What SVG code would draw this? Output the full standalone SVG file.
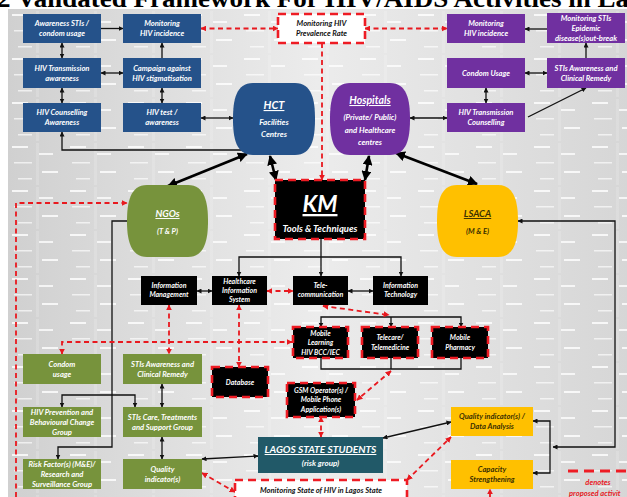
<svg xmlns="http://www.w3.org/2000/svg" width="627" height="497" viewBox="0 0 627 497">
<defs>
<linearGradient id="bg" x1="0" y1="0" x2="1" y2="0">
<stop offset="0" stop-color="#d0d0d0"/>
<stop offset="0.5" stop-color="#ececec"/>
<stop offset="1" stop-color="#d6d6d6"/>
</linearGradient>
<pattern id="gel" x="8" y="9" width="58" height="44" patternUnits="userSpaceOnUse">
<rect x="4" y="5" width="16" height="2" fill="#fff" opacity="0.8"/>
<rect x="31" y="12" width="14" height="2" fill="#fff" opacity="0.75"/>
<rect x="6" y="21" width="18" height="1.5" fill="#fff" opacity="0.65"/>
<rect x="34" y="30" width="16" height="2" fill="#fff" opacity="0.8"/>
<rect x="10" y="37" width="14" height="1.5" fill="#fff" opacity="0.65"/>
<rect x="28" y="2" width="3" height="44" fill="#fff" opacity="0.15"/>
</pattern>
<marker id="a" viewBox="0 0 10 10" refX="9" refY="5" markerWidth="5" markerHeight="5" orient="auto-start-reverse" markerUnits="userSpaceOnUse"><path d="M0,0 L10,5 L0,10 z" fill="#111"/></marker>
<marker id="at" viewBox="0 0 10 10" refX="9" refY="5" markerWidth="10" markerHeight="10" orient="auto-start-reverse" markerUnits="userSpaceOnUse"><path d="M0,0 L10,5 L0,10 z" fill="#000"/></marker>
<marker id="ar" viewBox="0 0 10 10" refX="9" refY="5" markerWidth="6" markerHeight="6" orient="auto-start-reverse" markerUnits="userSpaceOnUse"><path d="M0,0 L10,5 L0,10 z" fill="#e8191f"/></marker>
</defs>
<style>
.t{font-family:Lato,"Open Sans","Liberation Sans",sans-serif;font-weight:bold;font-style:italic;font-size:7.6px;fill:#fff;text-anchor:middle}
.s{font-size:7px}
.d{fill:#3a2f00}
.k{fill:#111}
.blue{fill:#25528a}
.pur{fill:#7030a0}
.grn{fill:#77933c}
.yel{fill:#ffc000}
.blk{fill:#000}
.rb{stroke:#ee1c24;stroke-width:2.6;stroke-dasharray:8 5}
.wb{fill:#fff;stroke:#ee1c24;stroke-width:2.6;stroke-dasharray:8 5}
.c{fill:none;stroke:#111;stroke-width:1.3}
.c2{marker-start:url(#a);marker-end:url(#a)}
.c1{marker-end:url(#a)}
.th{fill:none;stroke:#000;stroke-width:2.6;marker-start:url(#at);marker-end:url(#at)}
.r{fill:none;stroke:#e8191f;stroke-width:1.8;stroke-dasharray:5 3.5}
.r2{marker-start:url(#ar);marker-end:url(#ar)}
.r1{marker-end:url(#ar)}
</style>
<rect x="0" y="0" width="627" height="497" fill="#fff"/>
<text x="-3" y="7" font-family="Liberation Serif,serif" font-weight="bold" font-size="26" textLength="632" lengthAdjust="spacingAndGlyphs" fill="#000">2 Validated Framework For HIV/AIDS Activities in La</text>
<rect x="8" y="9" width="619" height="488" fill="url(#bg)"/>
<rect x="8" y="9" width="619" height="488" fill="url(#gel)"/>

<g id="connectors">
<path class="c c1" d="M101,28.5 H123"/>
<path class="c c2" d="M62,43 V58"/>
<path class="c c2" d="M101,73 H123"/>
<path class="c c1" d="M162,58 V43"/>
<path class="c c2" d="M62,88 V103"/>
<path class="c c2" d="M162,88 V103"/>
<path class="c c2" d="M201,118 H233"/>
<path class="c c1" d="M247,150 H62 V132"/>
<path class="c c1" d="M547,29 H525"/>
<path class="c c2" d="M525,73 H547"/>
<path class="c c1" d="M586,58 V43"/>
<path class="c c2" d="M486,88 V103"/>
<path class="c c1" d="M528,117 L586,88"/>
<path class="c c2" d="M410,118 H447"/>
<path class="th" d="M247,154 L168,186"/>
<path class="th" d="M270,156 L276,180"/>
<path class="th" d="M369,156 L365,180"/>
<path class="th" d="M396,153 L477,184"/>
<path class="c c1" d="M321,239 V276"/>
<path class="c c2" d="M239,276 V257 H401 V276"/>
<path class="c c2" d="M197,291 H212"/>
<path class="c c2" d="M348,291 H373"/>
<path class="c c1" d="M127,221 H112 V447 H58 V459"/>
<path class="c c2" d="M62,407 V395 H135 V407"/>
<path class="c c2" d="M162,384 V407"/>
<path class="c c2" d="M162,437 V459"/>
<path class="c c2" d="M202,459 L258,456"/>
<path class="c c2" d="M383,438 L451,422"/>
<path class="c c2" d="M553,447 H615 V221 H518"/>
<path class="c c2" d="M533,421 H550 V473 H533"/>
<path class="c c2" d="M321,327 V317 H461 V327"/>
<path class="c c1" d="M391,317 V327"/>
<path class="c" d="M321,358 V369 H461 V358 M391,358 V369"/>
<path class="r r2" d="M201,28.5 H278"/>
<path class="r r2" d="M365,28.5 H447"/>
<path class="r r1" d="M322,43 V180"/>
<path class="r r1" d="M16,497 V203 H127"/>
<path class="r r2" d="M267,291 H293"/>
<path class="r r2" d="M323,306 L389,315"/>
<path class="r r2" d="M169,305 V354"/>
<path class="r r2" d="M62,354 V342 H292"/>
<path class="r r2" d="M239,305 V367"/>
<path class="r r2" d="M391,371 L357,400"/>
<path class="r r2" d="M321,417 V437"/>
<path class="r r2" d="M202,473 L235,492"/>
<path class="r r2" d="M407,480 L451,437"/>
<path class="r r1" d="M490,497 V489"/>
<path d="M568,471 H627" fill="none" stroke="#ee1c24" stroke-width="3" stroke-dasharray="10 6"/>
</g>

<g id="awareness-stis"><rect class="blue" x="23" y="14" width="78" height="29"/><text class="t" x="62" y="26">Awareness STIs /</text><text class="t" x="62" y="36">condom usage</text></g>
<g id="monitoring-hiv-l"><rect class="blue" x="123" y="14" width="78" height="29"/><text class="t" x="162" y="26">Monitoring</text><text class="t" x="162" y="36">HIV incidence</text></g>
<g id="hiv-transmission-awareness"><rect class="blue" x="23" y="58" width="78" height="30"/><text class="t" x="62" y="70.5">HIV Transmission</text><text class="t" x="62" y="80.5">awareness</text></g>
<g id="campaign"><rect class="blue" x="123" y="58" width="78" height="30"/><text class="t" x="162" y="70.5">Campaign against</text><text class="t" x="162" y="80.5">HIV stigmatisation</text></g>
<g id="hiv-counselling"><rect class="blue" x="23" y="103" width="78" height="29"/><text class="t" x="62" y="115">HIV Counselling</text><text class="t" x="62" y="125">Awareness</text></g>
<g id="hiv-test"><rect class="blue" x="123" y="103" width="78" height="29"/><text class="t" x="162" y="115">HIV test /</text><text class="t" x="162" y="125">awareness</text></g>

<g id="prevalence"><rect class="wb" x="278" y="14" width="87" height="29"/><text class="t k" x="321.5" y="26">Monitoring HIV</text><text class="t k" x="321.5" y="36">Prevalence Rate</text></g>

<g id="monitoring-hiv-r"><rect class="pur" x="447" y="14" width="78" height="29"/><text class="t" x="486" y="26">Monitoring</text><text class="t" x="486" y="36">HIV incidence</text></g>
<g id="monitoring-stis"><rect class="pur" x="547" y="13" width="78" height="30"/><text class="t" x="586" y="21">Monitoring STIs</text><text class="t" x="586" y="31">Epidemic</text><text class="t" x="586" y="41">disease(s)out-break</text></g>
<g id="condom-usage-p"><rect class="pur" x="447" y="58" width="78" height="30"/><text class="t" x="486" y="75.5">Condom Usage</text></g>
<g id="stis-awareness-p"><rect class="pur" x="547" y="58" width="78" height="30"/><text class="t" x="586" y="70.5">STIs Awareness and</text><text class="t" x="586" y="80.5">Clinical Remedy</text></g>
<g id="hiv-transmission-counselling"><rect class="pur" x="447" y="103" width="78" height="29"/><text class="t" x="486" y="115">HIV Transmission</text><text class="t" x="486" y="125">Counselling</text></g>

<g id="hct"><path class="blue" d="M253,83 H295 C312,83 315,100 315,119 C315,138 312,155 295,155 H253 C236,155 233,138 233,119 C233,100 236,83 253,83 Z"/><text class="t" x="274" y="109" style="font-size:11px" text-decoration="underline">HCT</text><text class="t" x="274" y="125" style="font-size:8px">Facilities</text><text class="t" x="274" y="137" style="font-size:8px">Centres</text></g>
<g id="hospitals"><path class="pur" d="M350,83 H390 C407,83 410,100 410,119 C410,138 407,155 390,155 H350 C333,155 330,138 330,119 C330,100 333,83 350,83 Z"/><text class="t" x="370" y="104" style="font-size:10.5px" text-decoration="underline">Hospitals</text><text class="t" x="370" y="120" style="font-size:7.8px">(Private/ Public)</text><text class="t" x="370" y="133" style="font-size:7.8px">and Healthcare</text><text class="t" x="370" y="145" style="font-size:7.8px">centres</text></g>
<g id="ngos"><path class="grn" d="M147,185 H188 C205,185 208,203 208,221 C208,239 205,257 188,257 H147 C130,257 127,239 127,221 C127,203 130,185 147,185 Z"/><text class="t" x="167.5" y="217" style="font-size:9.5px" text-decoration="underline">NGOs</text><text class="t" x="167.5" y="234">(T &amp; P)</text></g>
<g id="lsaca"><path class="yel" d="M457,185 H498 C515,185 518,203 518,221 C518,239 515,257 498,257 H457 C440,257 437,239 437,221 C437,203 440,185 457,185 Z"/><text class="t d" x="477.5" y="217" style="font-size:9.5px" text-decoration="underline">LSACA</text><text class="t d" x="477.5" y="234">(M &amp; E)</text></g>

<g id="km"><rect class="blk rb" x="275" y="180" width="90" height="59"/><text class="t" x="320" y="212" style="font-size:23px" text-decoration="underline">KM</text><text class="t" x="320" y="232" style="font-size:9.5px">Tools &amp; Techniques</text></g>

<g id="info-management"><rect class="blk" x="141" y="276" width="56" height="29"/><text class="t s" x="169" y="288">Information</text><text class="t s" x="169" y="297">Management</text></g>
<g id="healthcare-is"><rect class="blk" x="212" y="276" width="55" height="29"/><text class="t s" x="239.5" y="283.5">Healthcare</text><text class="t s" x="239.5" y="292.5">Information</text><text class="t s" x="239.5" y="301.5">System</text></g>
<g id="telecommunication"><rect class="blk" x="293" y="276" width="55" height="29"/><text class="t s" x="320.5" y="288">Tele-</text><text class="t s" x="320.5" y="297">communication</text></g>
<g id="info-technology"><rect class="blk" x="373" y="276" width="55" height="29"/><text class="t s" x="400.5" y="288">Information</text><text class="t s" x="400.5" y="297">Technology</text></g>

<g id="mobile-learning"><rect class="blk rb" x="293" y="327" width="55" height="31"/><text class="t s" x="320.5" y="335.5">Mobile</text><text class="t s" x="320.5" y="345">Learning</text><text class="t s" x="320.5" y="354.5">HIV BCC/IEC</text></g>
<g id="telecare"><rect class="blk rb" x="362" y="327" width="56" height="31"/><text class="t s" x="390" y="340">Telecare/</text><text class="t s" x="390" y="349.5">Telemedicine</text></g>
<g id="mobile-pharmacy"><rect class="blk rb" x="432" y="327" width="56" height="31"/><text class="t s" x="460" y="340">Mobile</text><text class="t s" x="460" y="349.5">Pharmacy</text></g>
<g id="gsm"><rect class="blk rb" x="287" y="383" width="68" height="34"/><text class="t s" x="321" y="392.5">GSM Operator(s) /</text><text class="t s" x="321" y="402">Mobile Phone</text><text class="t s" x="321" y="411.5">Application(s)</text></g>
<g id="database"><rect class="blk rb" x="212" y="367" width="56" height="30"/><text class="t s" x="240" y="384.5">Database</text></g>

<g id="condom-usage-g"><rect class="grn" x="23" y="354" width="78" height="30"/><text class="t" x="62" y="366.5">Condom</text><text class="t" x="62" y="377">usage</text></g>
<g id="stis-awareness-g"><rect class="grn" x="123" y="354" width="79" height="30"/><text class="t" x="162.5" y="366.5">STIs Awareness and</text><text class="t" x="162.5" y="377">Clinical Remedy</text></g>
<g id="hiv-prevention"><rect class="grn" x="23" y="407" width="78" height="30"/><text class="t" x="62" y="414.5">HIV  Prevention and</text><text class="t" x="62" y="424.5">Behavioural Change</text><text class="t" x="62" y="434.5">Group</text></g>
<g id="stis-care"><rect class="grn" x="123" y="407" width="79" height="30"/><text class="t" x="162.5" y="419.5">STIs Care, Treatments</text><text class="t" x="162.5" y="430">and Support Group</text></g>
<g id="risk-factor"><rect class="grn" x="23" y="459" width="78" height="30"/><text class="t" x="62" y="466.5">Risk Factor(s) (M&amp;E)/</text><text class="t" x="62" y="476.5">Research and</text><text class="t" x="62" y="486.5">Surveillance Group</text></g>
<g id="quality-g"><rect class="grn" x="123" y="459" width="79" height="30"/><text class="t" x="162.5" y="471.5">Quality</text><text class="t" x="162.5" y="482">indicator(s)</text></g>

<g id="lagos-students"><rect fill="#215968" x="258" y="437" width="125" height="36"/><text class="t" x="320.5" y="453" style="font-size:10.2px" text-decoration="underline">LAGOS STATE STUDENTS</text><text class="t" x="320.5" y="466" style="font-size:8px">(risk group)</text></g>
<g id="monitoring-state"><rect class="wb" x="235" y="480" width="172" height="22"/><text class="t k" x="321" y="493" style="font-size:7.6px">Monitoring State of HIV in Lagos State</text></g>
<g id="data-analysis"><rect class="yel" x="451" y="407" width="82" height="29"/><text class="t d" x="492" y="419">Quality indicator(s) /</text><text class="t d" x="492" y="429">Data Analysis</text></g>
<g id="capacity"><rect class="yel" x="451" y="460" width="82" height="29"/><text class="t d" x="492" y="472">Capacity</text><text class="t d" x="492" y="482">Strengthening</text></g>

<g id="legend"><text class="t" x="598" y="485" style="font-size:7.6px;fill:#e8191f">denotes</text><text class="t" x="569" y="496" style="font-size:7.6px;fill:#e8191f;text-anchor:start">proposed activit</text></g>
</svg>
